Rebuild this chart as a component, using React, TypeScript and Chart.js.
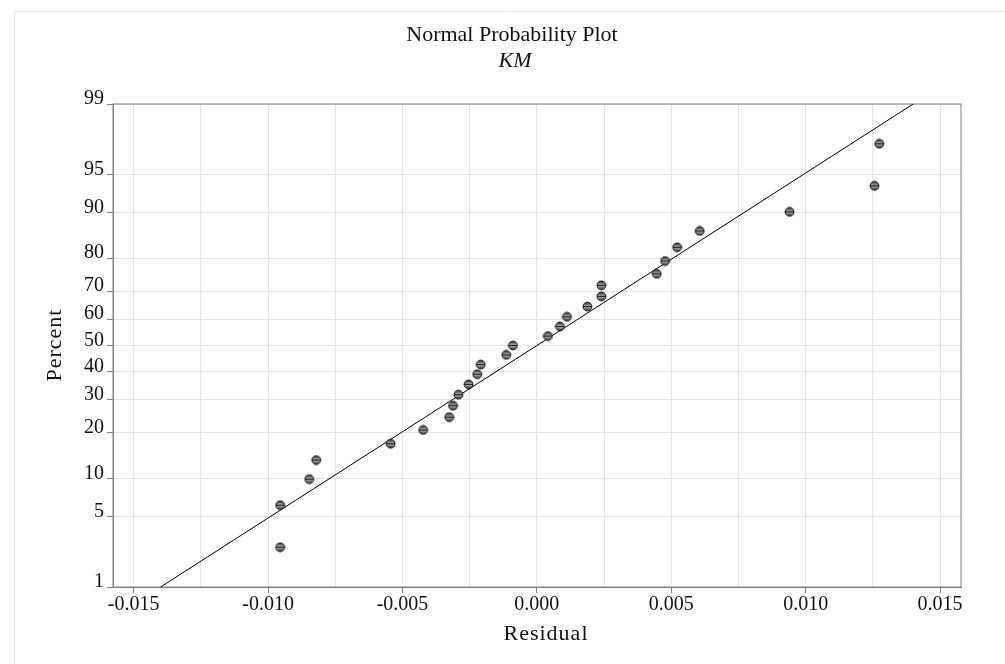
import React, { useEffect, useRef } from "react";
import { Chart, registerables } from "chart.js";

Chart.register(...registerables);

// ---- data ----
const residuals = [
  -0.00955, -0.00955, -0.00847, -0.00821, -0.00544, -0.00423, -0.00326, -0.00312, -0.00292,
  -0.00254, -0.00222, -0.00209, -0.00114, -0.00089, 0.00041, 0.00086, 0.00112, 0.00188,
  0.0024, 0.0024, 0.00446, 0.00477, 0.00522, 0.00606, 0.0094, 0.01256, 0.01274,
];
const percents = [
  2.6, 6.2, 9.9, 13.5, 17.2, 20.8, 24.5, 28.1, 31.8, 35.4, 39.1, 42.7, 46.4, 50.0, 53.6, 57.3,
  60.9, 64.6, 68.2, 71.9, 75.5, 79.2, 82.8, 86.5, 90.1, 93.8, 97.4,
];
const fitLineResidual = [-0.014, 0.014];
const fitLinePercent = [1, 99];

const yTickPercents = [1, 5, 10, 20, 30, 40, 50, 60, 70, 80, 90, 95, 99];
const xGridValues = [
  -0.015, -0.0125, -0.01, -0.0075, -0.005, -0.0025, 0, 0.0025, 0.005, 0.0075, 0.01, 0.0125, 0.015,
];
const xLabelValues = [-0.015, -0.01, -0.005, 0, 0.005, 0.01, 0.015];
const xRange = [-0.01577, 0.01578];
const yRangePercent = [1, 99];

const titleText = "Normal Probability Plot";
const subtitleText = "KM";
const xTitle = "Residual";
const yTitle = "Percent";

const FONT = "'Liberation Serif', 'Times New Roman', serif";

// inverse standard normal CDF (probability-paper transform)
function probit(p: number): number {
  const a = [-3.969683028665376e1, 2.209460984245205e2, -2.759285104469687e2, 1.38357751867269e2, -3.066479806614716e1, 2.506628277459239];
  const b = [-5.447609879822406e1, 1.615858368580409e2, -1.556989798598866e2, 6.680131188771972e1, -1.328068155288572e1];
  const c = [-7.784894002430293e-3, -3.223964580411365e-1, -2.400758277161838, -2.549732539343734, 4.374664141464968, 2.938163982698783];
  const d = [7.784695709041462e-3, 3.224671290700398e-1, 2.445134137142996, 3.754408661907416];
  const pl = 0.02425;
  const ph = 1 - pl;
  if (p < pl) {
    const q = Math.sqrt(-2 * Math.log(p));
    return (((((c[0] * q + c[1]) * q + c[2]) * q + c[3]) * q + c[4]) * q + c[5]) / ((((d[0] * q + d[1]) * q + d[2]) * q + d[3]) * q + 1);
  }
  if (p <= ph) {
    const q = p - 0.5;
    const r = q * q;
    return ((((((a[0] * r + a[1]) * r + a[2]) * r + a[3]) * r + a[4]) * r + a[5]) * q) / (((((b[0] * r + b[1]) * r + b[2]) * r + b[3]) * r + b[4]) * r + 1);
  }
  const q = Math.sqrt(-2 * Math.log(1 - p));
  return -(((((c[0] * q + c[1]) * q + c[2]) * q + c[3]) * q + c[4]) * q + c[5]) / ((((d[0] * q + d[1]) * q + d[2]) * q + d[3]) * q + 1);
}

function isLabelX(v: number) {
  return xLabelValues.some((l) => Math.abs(l - v) < 1e-9);
}

function makePointImage(): HTMLCanvasElement {
  const s = 11;
  const cv = document.createElement("canvas");
  cv.width = s;
  cv.height = s;
  const g = cv.getContext("2d")!;
  const cx = s / 2;
  const r = 4.4;
  g.save();
  g.beginPath();
  g.arc(cx, cx, r, 0, Math.PI * 2);
  g.fillStyle = "#555";
  g.fill();
  g.clip();
  g.fillStyle = "#9c9c9c";
  g.fillRect(0, 3.5, s, 4);
  g.fillStyle = "#1a1a1a";
  g.fillRect(0, 5.0, s, 1.0);
  g.restore();
  g.beginPath();
  g.arc(cx, cx, r, 0, Math.PI * 2);
  g.strokeStyle = "#111";
  g.lineWidth = 1;
  g.stroke();
  return cv;
}

const decorPlugin = {
  id: "decor",
  beforeDraw(chart: any) {
    const ctx = chart.ctx;
    ctx.save();
    ctx.fillStyle = "#fff";
    ctx.fillRect(0, 0, chart.width, chart.height);
    ctx.strokeStyle = "#e6e6e6";
    ctx.lineWidth = 1;
    ctx.beginPath();
    ctx.moveTo(14.5, chart.height + 5);
    ctx.lineTo(14.5, 11.5);
    ctx.lineTo(chart.width + 5, 11.5);
    ctx.stroke();
    ctx.restore();
  },
  beforeDatasetsDraw(chart: any) {
    const { ctx, chartArea } = chart;
    ctx.save();
    ctx.strokeStyle = "#808080";
    ctx.lineWidth = 1;
    ctx.strokeRect(chartArea.left, chartArea.top, chartArea.right - chartArea.left, chartArea.bottom - chartArea.top);
    ctx.restore();
  },
  afterDraw(chart: any) {
    const ctx = chart.ctx;
    ctx.save();
    ctx.fillStyle = "#111";
    ctx.textAlign = "center";
    ctx.textBaseline = "alphabetic";
    ctx.font = `22px ${FONT}`;
    ctx.fillText(titleText, 512, 41);
    ctx.font = `italic 22px ${FONT}`;
    ctx.fillText(subtitleText, 515, 67);

    ctx.textBaseline = "middle";
    (ctx as any).letterSpacing = "1px";
    ctx.font = `22px ${FONT}`;
    ctx.fillText(xTitle, 546, 634);
    ctx.translate(55, 345);
    ctx.rotate(-Math.PI / 2);
    ctx.fillText(yTitle, 0, 0);
    ctx.restore();
  },
};

export default function App() {
  const canvasRef = useRef<HTMLCanvasElement | null>(null);

  useEffect(() => {
    if (!canvasRef.current) return;
    const pointImg = makePointImage();
    const scatterData = residuals.map((x, i) => ({ x, y: probit(percents[i] / 100) }));
    const lineData = fitLineResidual.map((x, i) => ({ x, y: probit(fitLinePercent[i] / 100) }));

    const chart = new Chart(canvasRef.current, {
      type: "scatter",
      data: {
        datasets: [
          {
            label: "fit",
            data: lineData,
            showLine: true,
            borderColor: "#000",
            borderWidth: 1,
            pointRadius: 0,
            fill: false,
            order: 2,
          } as any,
          {
            label: "residuals",
            data: scatterData,
            pointStyle: pointImg as any,
            pointRadius: 4.5,
            order: 1,
          } as any,
        ],
      },
      plugins: [decorPlugin],
      options: {
        animation: false,
        responsive: true,
        maintainAspectRatio: false,
        layout: { padding: { top: 104, right: 44, left: 0, bottom: 0 } },
        plugins: {
          legend: { display: false },
          tooltip: { enabled: false },
          title: { display: false },
        },
        scales: {
          x: {
            type: "linear",
            min: xRange[0],
            max: xRange[1],
            afterBuildTicks: (scale: any) => {
              scale.ticks = xGridValues.map((v) => ({ value: v }));
            },
            afterFit: (scale: any) => {
              scale.height = 77;
            },
            ticks: {
              autoSkip: false,
              maxRotation: 0,
              padding: 0,
              color: "#111",
              font: { family: FONT, size: 20 },
              callback: (value: any) => {
                const v = Number(value);
                if (!isLabelX(v)) return "";
                const s = Math.abs(v) < 1e-12 ? 0 : v;
                return s.toFixed(3);
              },
            },
            grid: {
              color: "#e6e6e6",
              lineWidth: 1,
              tickLength: 6,
              tickColor: (ctx: any) => (ctx.tick && isLabelX(ctx.tick.value) ? "#808080" : "rgba(0,0,0,0)"),
            },
            border: { color: "#808080" },
          },
          y: {
            type: "linear",
            min: probit(yRangePercent[0] / 100),
            max: probit(yRangePercent[1] / 100),
            afterBuildTicks: (scale: any) => {
              scale.ticks = yTickPercents.map((p) => ({ value: probit(p / 100) }));
            },
            afterFit: (scale: any) => {
              scale.width = 113;
            },
            ticks: {
              autoSkip: false,
              padding: 3,
              labelOffset: -5,
              color: "#111",
              font: { family: FONT, size: 20 },
              callback: (_value: any, index: number) => String(yTickPercents[index]),
            },
            grid: {
              color: "#e6e6e6",
              lineWidth: 1,
              tickLength: 6,
              tickColor: "#808080",
            },
            border: { color: "#808080" },
          },
        },
      },
    });
    return () => chart.destroy();
  }, []);

  return (
    <div style={{ position: "fixed", left: 0, top: 0, width: 1005, height: 664, background: "#fff" }}>
      <canvas ref={canvasRef} />
    </div>
  );
}
